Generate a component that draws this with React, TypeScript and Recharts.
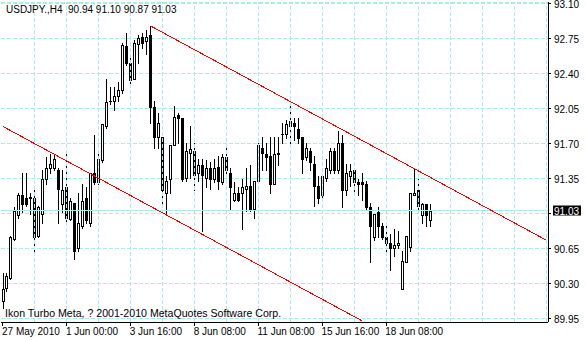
import React from "react";
import { Bar, CartesianGrid, ComposedChart, ReferenceLine, XAxis, YAxis } from "recharts";

// USDJPY H4 bars, oldest first
const opens = [
  90.13, 90.26, 90.36, 90.75, 90.98, 91.18, 91.16, 91.16, 91.15, 90.78,
  91.0, 91.35, 91.46, 91.45, 91.44, 91.1, 91.26, 90.95, 91.11, 90.65,
  90.88, 91.15, 90.9, 91.4, 91.31, 91.53, 91.87, 92.12, 92.12, 92.17,
  92.23, 92.67, 92.5, 92.35, 92.69, 92.76, 92.72, 92.78, 92.07, 91.76,
  91.76, 91.21, 91.34, 91.69, 91.98, 91.96, 91.36, 91.61, 91.63, 91.4,
  91.49, 91.36, 91.46, 91.34, 91.47, 91.31, 91.57, 91.41, 91.14, 91.21,
  91.2, 91.25, 91.28, 91.05, 91.33, 91.66, 91.6, 91.58, 91.3, 91.59,
  91.79, 91.79, 91.87, 91.91, 91.85, 91.76, 91.56, 91.63, 91.5, 91.28,
  91.18, 91.36, 91.44, 91.63, 91.43, 91.7, 91.23, 91.37, 91.44, 91.31,
  91.32, 91.3, 91.07, 90.76, 91.01, 90.87, 90.76, 90.71, 90.66, 90.68,
  90.25, 90.51, 90.67, 91.19, 91.23, 90.99, 91.1, 90.94,
];
const highs = [
  90.4, 90.41, 90.78, 91.06, 91.21, 91.4, 91.4, 91.2, 91.26, 91.08,
  91.43, 91.56, 91.6, 91.6, 91.45, 91.43, 91.6, 91.16, 91.11, 91.2,
  91.3, 91.26, 91.4, 91.78, 91.6, 91.89, 92.35, 92.26, 92.26, 92.31,
  92.7, 92.8, 92.6, 92.73, 92.78, 92.8, 92.83, 92.87, 92.13, 92.0,
  91.76, 91.38, 91.68, 92.08, 92.0, 91.96, 91.71, 91.88, 91.71, 91.55,
  91.55, 91.53, 91.51, 91.55, 91.58, 91.6, 91.66, 91.46, 91.31, 91.26,
  91.35, 91.46, 91.48, 91.33, 91.7, 91.76, 91.7, 91.76, 91.76, 91.76,
  91.9, 91.93, 92.12, 91.95, 91.95, 91.76, 91.7, 91.65, 91.58, 91.38,
  91.38, 91.55, 91.66, 91.65, 91.83, 91.78, 91.5, 91.5, 91.44, 91.35,
  91.41, 91.33, 91.11, 91.0, 91.06, 90.91, 90.9, 90.8, 90.85, 90.83,
  90.63, 90.78, 91.21, 91.45, 91.35, 91.11, 91.1, 91.1,
];
const lows = [
  90.06, 90.23, 90.35, 90.73, 90.96, 91.01, 91.08, 91.0, 90.6, 90.76,
  90.9, 91.3, 91.4, 91.43, 90.91, 91.01, 90.91, 90.93, 90.55, 90.63,
  90.86, 90.91, 90.88, 91.3, 91.3, 91.51, 91.86, 92.1, 92.03, 92.13,
  92.21, 92.48, 92.3, 92.34, 92.5, 92.66, 92.6, 91.9, 91.65, 91.66,
  91.06, 90.98, 91.21, 91.68, 91.7, 91.33, 91.33, 91.36, 91.23, 91.33,
  90.83, 91.26, 91.25, 91.31, 91.25, 91.3, 91.41, 91.05, 91.13, 91.13,
  90.85, 91.03, 91.03, 90.96, 91.33, 91.43, 91.43, 91.2, 91.29, 91.48,
  91.7, 91.75, 91.71, 91.73, 91.71, 91.41, 91.53, 91.43, 91.08, 91.11,
  91.13, 91.33, 91.41, 91.4, 91.41, 91.06, 91.18, 91.28, 91.2, 91.18,
  91.14, 91.05, 90.51, 90.73, 90.76, 90.75, 90.61, 90.43, 90.58, 90.65,
  90.25, 90.51, 90.63, 91.18, 91.03, 90.9, 90.88, 90.87,
];
const closes = [
  90.25, 90.38, 90.76, 91.03, 91.18, 91.1, 91.1, 91.17, 90.76, 91.06,
  91.35, 91.46, 91.5, 91.55, 91.25, 91.23, 90.95, 91.13, 90.63, 90.9,
  91.13, 90.93, 91.4, 91.32, 91.55, 91.89, 92.11, 92.13, 92.17, 92.23,
  92.68, 92.5, 92.33, 92.7, 92.75, 92.71, 92.77, 92.07, 91.76, 91.9,
  91.23, 91.33, 91.68, 91.97, 91.95, 91.35, 91.62, 91.64, 91.39, 91.48,
  91.39, 91.45, 91.34, 91.46, 91.33, 91.57, 91.43, 91.26, 91.2, 91.14,
  91.27, 91.28, 91.05, 91.33, 91.68, 91.61, 91.57, 91.3, 91.59, 91.61,
  91.8, 91.89, 91.92, 91.87, 91.75, 91.55, 91.66, 91.51, 91.28, 91.16,
  91.38, 91.46, 91.63, 91.44, 91.7, 91.23, 91.4, 91.42, 91.31, 91.3,
  91.3, 91.06, 90.88, 91.0, 90.88, 90.76, 90.71, 90.65, 90.69, 90.71,
  90.53, 90.78, 91.2, 91.21, 91.08, 91.09, 90.98, 91.03,
];

// empty slots on the right (chart shift)
const SLOTS = 137;

const priceTicks = [93.1, 92.75, 92.4, 92.05, 91.7, 91.35, 91.0, 90.65, 90.3, 89.95];
const timeTicks = [0, 16, 32, 48, 64, 80, 96];
const timeLabels = ["27 May 2010", "1 Jun 00:00", "3 Jun 16:00", "8 Jun 08:00", "11 Jun 08:00", "15 Jun 16:00", "18 Jun 08:00"];
const gridSlots = [8, 16, 24, 32, 40, 48, 56, 64, 72, 80, 88, 96, 104, 112, 120, 128, 136];

const bid = 91.03;
const upperChannel = [{ x: 37, y: 92.875 }, { x: 136, y: 90.735 }];
const lowerChannel = [{ x: 0, y: 91.87 }, { x: 90, y: 89.925 }];

const GRID = "#a8ecec";
const FONT = "'Liberation Sans', Arial, sans-serif";

const rows = Array.from({ length: SLOTS }, (_, i) =>
  i < opens.length
    ? { idx: i, open: opens[i], high: highs[i], low: lows[i], close: closes[i], range: [lows[i], highs[i]] }
    : { idx: i, range: null }
);

function Candle(props: any) {
  const { x, y, width, height, payload } = props;
  if (!payload || payload.open == null || !height) return null;
  const cx = Math.round(x + width / 2);
  const k = height / (payload.high - payload.low);
  const yOf = (p: number) => Math.round(y + (payload.high - p) * k);
  const top = yOf(Math.max(payload.open, payload.close));
  const bot = yOf(Math.min(payload.open, payload.close));
  const yh = yOf(payload.high);
  const yl = yOf(payload.low);
  const bull = payload.close >= payload.open;
  return (
    <g shapeRendering="crispEdges">
      <rect x={cx} y={yh} width={1} height={Math.max(1, yl - yh + 1)} fill="#000" />
      {bot - top < 1 ? (
        <rect x={cx - 1} y={top} width={3} height={1} fill="#000" />
      ) : bull ? (
        <rect x={cx - 0.5} y={top + 0.5} width={2} height={bot - top} fill="#fff" stroke="#000" strokeWidth={1} />
      ) : (
        <rect x={cx - 1} y={top} width={3} height={bot - top + 1} fill="#000" />
      )}
    </g>
  );
}

function PriceTick(props: any) {
  const { x, y, payload } = props;
  if (Math.abs(payload.value - 91.0) < 0.001) return null;
  return (
    <text x={x} y={y + 4} fontSize={10} fontFamily={FONT} fill="#000" textAnchor="start">
      {payload.value.toFixed(2)}
    </text>
  );
}

function TimeTick(props: any) {
  const { x, y, payload } = props;
  const i = timeTicks.indexOf(payload.value);
  return (
    <text x={x - 1} y={y + 8} fontSize={10} fontFamily={FONT} fill="#000" textAnchor="start">
      {timeLabels[i]}
    </text>
  );
}

function BidLabel(props: any) {
  const { viewBox } = props;
  const bx = viewBox.x + viewBox.width + 5;
  return (
    <g>
      <rect x={bx} y={viewBox.y - 5} width={28} height={10} fill="#000" />
      <text x={bx + 1} y={viewBox.y + 4} fontSize={10} fontFamily={FONT} fill="#fff">
        {bid.toFixed(2)}
      </text>
    </g>
  );
}

export default function App() {
  return (
    <div style={{ position: "absolute", left: 0, top: 0, width: 586, height: 340, background: "#fff", fontFamily: FONT }}>
      <ComposedChart width={586} height={340} data={rows} margin={{ top: 2, right: 0, bottom: 0, left: 1 }} barCategoryGap={0}>
        <CartesianGrid vertical={false} stroke={GRID} strokeDasharray="4 2" shapeRendering="crispEdges" />
        {gridSlots.map(s => (
          <ReferenceLine key={s} x={s} stroke={GRID} strokeDasharray="4 2" shapeRendering="crispEdges" />
        ))}
        <XAxis
          dataKey="idx"
          type="category"
          ticks={timeTicks}
          interval={0}
          height={18}
          tickSize={4}
          tickMargin={1}
          axisLine={{ stroke: "#000", shapeRendering: "crispEdges" }}
          tickLine={{ stroke: "#000", shapeRendering: "crispEdges" }}
          tick={<TimeTick />}
        />
        <YAxis
          orientation="right"
          type="number"
          domain={[89.915, 93.115]}
          allowDataOverflow
          ticks={priceTicks}
          interval={0}
          width={38}
          tickSize={3}
          tickMargin={3}
          axisLine={{ stroke: "#000", shapeRendering: "crispEdges" }}
          tickLine={{ stroke: "#000", shapeRendering: "crispEdges" }}
          tick={<PriceTick />}
        />
        <ReferenceLine y={bid} stroke={GRID} shapeRendering="crispEdges" label={<BidLabel />} />
        <ReferenceLine segment={upperChannel} stroke="#ff0000" ifOverflow="visible" shapeRendering="crispEdges" />
        <ReferenceLine segment={lowerChannel} stroke="#ff0000" ifOverflow="visible" shapeRendering="crispEdges" />
        <Bar dataKey="range" barSize={3} shape={<Candle />} isAnimationActive={false} />
      </ComposedChart>
      <div style={{ position: "absolute", left: 6, top: 4, fontSize: 10, color: "#000", whiteSpace: "pre" }}>
        USDJPY.,H4  90.94 91.10 90.87 91.03
      </div>
      <div style={{ position: "absolute", left: 5, top: 307, fontSize: 10.6, color: "#000", whiteSpace: "pre" }}>
        Ikon Turbo Meta, ? 2001-2010 MetaQuotes Software Corp.
      </div>
    </div>
  );
}
